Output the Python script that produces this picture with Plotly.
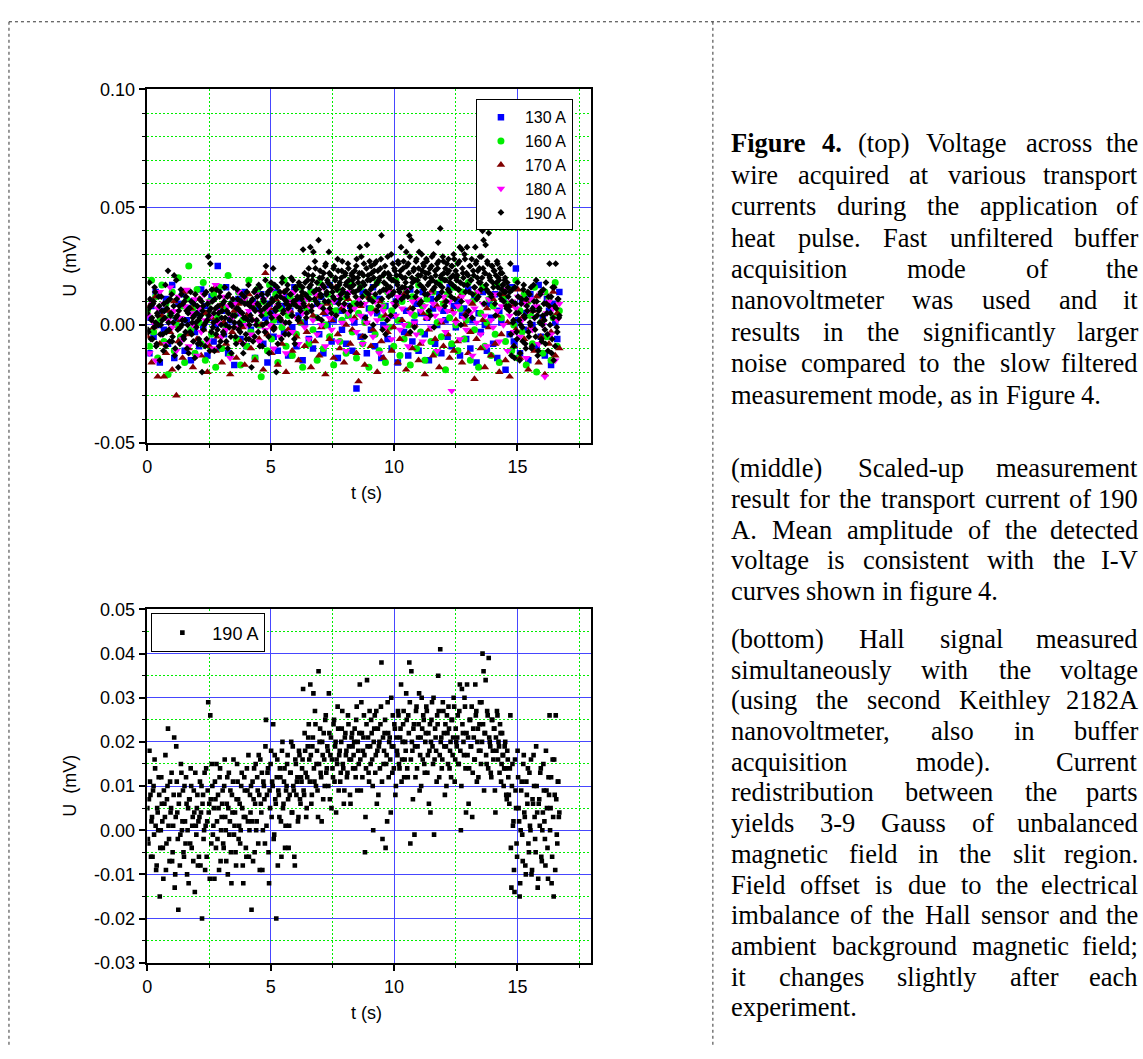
import numpy as np
import plotly.graph_objects as go

W, H = 1143, 1059
T_END = 16.7          # s, last sample time

# ---------------- data (values in microvolts) ----------------
u130 = [3, -12, 8, -5, 14, 0, -16, 6, -2, 11, -8, 4, 17, -14, 1, 9, -6, 13, -11, 2, 7, -15, 10, -3, 5, -9, 15, -1, 8, -13, 3, 12, -7, 0, 25, -10, 6, -4, 16, -12, 2, 9, -17, 5, 11, -6, 1, 14, -9, 4,
        -2, 10, -14, 7, 0, 13, -8, 3, -16, 9, 5, -5, 15, -11, 2, 8, -3, 12, -13, 6, -1, 16, -9, 4, 11, -15, 1, 7, -6, 14, -10, 3, 9, -4, 12, -12, 5, 0, 17, -7, 2, 10, -14, 6, -2, 13, -8, 4, 8, -11,
        1, -27, 9, -5, 14, 3, -12, 7, -2, 16, -9, 5, 11, -14, 0, 8, -6, 13, -10, 4, 10, -16, 2, 12, -3, 6, -13, 15, -7, 1, 9, -11, 5, 14, -4, 3, -15, 11, 7, -8, 0, 13, -12, 6, 2, -5, 16, -9, 8, -1,
        10, -13, 4, 7, -6, 15, -10, 2, 12, -16, 5, -3, 14, 0, -11, 9, 3, -8, 13, -14, 6, 1, 11, -19, 8, -4, 16, -7, 24, 2, -12, 10, -2, 5, -15, 13, 0, 7, -9, 17, -5, 3, -13, 11, 6, -17, 9, 1, -6, 14]
u160 = [6, -9, 19, -3, 12, -14, 2, 17, -7, 9, -21, 4, 14, -11, 0, 20, -5, 8, -16, 11, 25, -2, 7, -12, 15, 1, -8, 18, -15, 5, 10, -4, 13, -18, 3, 16, -10, 7, -1, 21, -13, 9, 4, -6, 14, -17, 2, 11, -9, 19,
        -3, 8, -14, 15, 0, -22, 10, 5, -11, 17, -6, 2, 13, -16, 7, -1, 19, -9, 4, 12, -13, 9, -4, 16, 1, -18, 11, 6, -8, 14, -2, 3, -15, 18, 8, -10, 0, 13, -5, 10, -17, 6, 15, -7, 2, 12, -12, 4, 17, -3,
        9, -14, 5, 16, -8, 1, 13, -18, 7, 11, -4, 18, -11, 3, 8, -16, 14, -1, 6, -9, 19, 2, -13, 10, -6, 15, 0, -17, 12, 4, -10, 17, -3, 8, -15, 11, 5, -7, 14, -12, 1, 18, -5, 9, -19, 13, 3, -8, 16, 0,
        -11, 7, 14, -6, 2, 18, -15, 10, -2, 13, -18, 5, 16, -9, 1, 11, -13, 8, -4, 17, -16, 3, 12, -7, 9, 15, -11, 0, 19, -14, 6, -3, 13, -17, 10, 4, -8, 16, -20, 7, 1, -12, 14, -5, 11, -15, 3, 18, -9, 6]
u170 = [-5, 8, -16, -1, 12, -22, -8, 4, -22, -12, 6, -3, -19, 10, -30, -7, 2, -14, 14, -4, -10, 7, -18, 0, -6, 11, -13, -2, 5, -20, -9, 3, 15, -11, -5, 8, -16, 1, -8, 12, -21, -3, 6, -14, 9, -7, -1, -17, 4, 13,
        -10, 2, -15, 9, -6, 0, -19, 22, -4, 7, -12, -1, 11, -17, 3, -8, 14, -20, -2, 6, -11, 10, -5, -15, 1, 13, -9, -3, 8, -18, 4, -7, 12, -13, -1, 5, -21, 9, -6, 2, -14, 16, -4, -10, 7, -16, 0, 11, -8, -2,
        3, -12, -24, 8, -5, -17, 1, 12, -9, -2, 6, -20, 10, -7, -14, 4, -3, 15, -11, -1, 9, -16, -6, 2, 13, -19, -4, 7, -10, 0, 11, -15, -8, 5, -21, 3, -2, 14, -13, -6, 8, -18, 1, -9, 10, -4, -14, 6, -11, 2,
        -7, 12, -16, 0, 5, -12, -3, 9, -23, -6, 14, -10, 2, -18, 7, -1, -13, 11, -8, 4, -20, -4, 13, -15, 1, -22, 8, -9, -2, 15, -14, 3, -6, 10, -19, -1, 6, -11, 12, -16, -5, 2, -21, 9, -8, -3, 14, -13, 5, -10]
u180 = [4, -12, 10, 1, -15, 7, 14, -4, 9, -8, 2, 16, -1, 6, -11, 12, 3, -6, 8, 15, -9, 5, 0, 11, -13, 7, -3, 13, 2, -7, 10, 4, -10, 17, 1, 6, -5, 12, -2, 8, -14, 3, 9, -1, 14, 5, -8, 11, 0, 6,
        -4, 9, 2, 13, -7, 5, 11, -2, 7, 0, 15, -10, 4, 8, -5, 12, 1, -12, 6, 10, -3, 14, 3, -8, 9, 5, -1, 11, -6, 7, 2, 13, -4, 8, 0, 16, -9, 6, 3, -2, 10, 4, -7, 12, 1, 8, -11, 5, 14, 2,
        7, -3, 11, 4, -8, 9, 1, 13, 5, -5, 10, 2, -12, 8, 6, -1, 14, 3, -6, 9, 4, 12, -2, 7, 0, 15, -9, 5, 10, 1, -4, 11, 6, -7, 8, 3, 13, -1, 9, 4, -11, 7, 2, 12, -3, 6, 10, -28, 5, 1,
        8, -6, 12, 3, -2, 10, 5, -13, 7, 1, 14, -4, 9, 4, -9, 11, 2, -1, 13, 6, -7, 8, 0, 15, -11, 4, 10, -3, 7, 12, -5, 2, 9, -14, 6, 11, -2, 3, 8, -8, 13, 0, -22, 5, 10, -4, 7, -15, 2, 9]
# 190 A: even-index samples (a) and odd-index samples (b)
u190_a = [5, -3, 18, 8, 2, -6, 10, 16, 1, -8, 4, 12, -15, 0, 6, -4, 9, 3, -9, 7, 23, -2, 11, 5, -7, 1, 21, -10, 19, 4, -18, 8, -1, 13, 2, -5, 10, -3, 6, 0, -12, 7, 14, -4, 3, 9, -14, 1, 5, -8,
          -6, 11, 4, -20, 8, 0, -9, 14, 2, 29, 6, 26, -3, 10, 1, -11, 7, 15, -2, 5, 12, -7, 3, 9, -4, 16, 0, 6, -10, 13, 2, -5, 8, 11, -1, 4, -8, 15, 7, 1, -3, 10, 5, -12, 12, 3, -6, 9, 17, 0,
          4, -18, 11, 7, -5, 15, 2, 9, 17, -9, 6, 13, 0, 10, -3, 25, 8, 14, -12, 5, 18, 11, 24, -1, 7, -20, 16, 9, 3, 12, -6, 20, 6, 14, 1, 10, 17, -4, 8, 13, 4, 19, 9, -8, 15, 11, 2, 18, 7, 12,
          14, 32, 8, 18, 3, 12, 21, 16, 33, 6, 19, 31, 11, 24, 15, 9, 36, 20, 13, 2, 17, 22, 10, 26, 14, 18, 31, 7, 21, 16, 12, 25, 19, 4, 15, 23, 17, 11, 20, 27, 14, 9, 22, 18, 13, 24, 16, 6, 21, 19,
          17, 23, 12, 28, 20, 15, 33, 9, 22, 18, 26, -5, 14, 34, 21, 11, 19, 25, 16, 0, 23, 13, 27, 18, 8, 20, 24, 38, -2, 15, 22, -4, 17, 29, 12, 21, 4, 19, 26, 14, 23, 10, 18, 27, 15, 21, 33, 16, 24, 12,
          20, 31, 14, 26, 38, -3, 36, 18, 23, -1, 12, 28, 19, 24, 9, 21, 30, 16, 25, 13, 22, 27, 17, 6, 24, 20, 29, 15, -1, 23, 18, 26, 35, 12, 41, 21, 16, 27, 19, 24, 10, 22, 28, 14, 20, 25, 17, 30, 11, 23,
          19, 26, 15, 33, 0, 32, 22, 17, 28, 4, 33, 21, 14, 25, 19, 3, 23, 16, 33, 27, 20, 12, 24, 18, 29, 40, 36, 22, 34, 15, 26, 39, 20, 13, 25, 18, 23, 9, 21, 27, 16, 19, 24, 11, 22, 17, 14, 20, 8, 18,
          12, 6, 26, -13, 15, 2, -14, 9, -3, 18, 5, -15, 0, 11, -7, 17, 3, -10, 8, 14, -5, 1, 16, -9, 6, 10, -2, 19, 4, -11, 7, 13, -6, 0, 15, 2, -8, 9, -4, 12, 26, 5, -12, 16, -15, 8, 26, -1, 11, 3]
u190_b = [-2, 7, 11, -6, 3, 9, -1, 14, -9, 5, 0, 8, -4, 12, 2, -11, 6, 17, -3, 10, 1, -7, 4, 13, -5, 8, -13, 3, 11, -2, 6, -8, 15, 0, 9, -6, 2, 12, -10, 5, 7, -3, 10, 1, -7, 4, 13, -1, 8, 2,
          3, -8, 10, 6, -2, 13, 1, -6, 9, 4, -11, 7, 15, -1, 5, 11, -4, 2, 8, -9, 14, 0, 6, -3, 10, 3, -7, 12, 5, -1, 9, -12, 4, 16, 1, -5, 7, 11, -2, 6, 0, 13, -8, 3, 9, -4, 14, 2, -6, 8,
          10, 2, -7, 14, 6, 0, 12, -3, 8, 16, 4, -9, 11, 7, 19, 1, 13, -5, 9, 15, 3, 10, -2, 17, 6, 12, -8, 8, 14, 2, 18, 5, 11, -4, 9, 15, 7, 1, 13, 20, 4, 10, -6, 16, 8, 12, 3, 17, 6, 11,
          16, 9, 22, 13, 5, 19, 24, 11, 17, 8, 21, 14, 27, 10, 18, 3, 15, 23, 12, 20, 7, 16, 25, 13, 19, 10, 22, 17, 5, 14, 24, 11, 20, 16, 28, 9, 18, 13, 23, 15, 6, 21, 17, 12, 26, 19, 8, 16, 22, 14,
          20, 14, 25, 9, 18, 22, 16, 29, 12, 21, 17, 3, 24, 19, 13, 27, 15, 22, 10, 20, 26, 17, 6, 23, 19, 14, 28, 11, 21, 18, 25, 15, 2, 22, 20, 16, 30, 13, 19, 24, 8, 21, 17, 26, 14, 23, 11, 20, 27, 16,
          18, 25, 12, 22, 29, 16, 20, 7, 24, 19, 27, 14, 21, 31, 17, 10, 23, 26, 15, 20, 28, 13, 22, 18, 4, 25, 19, 30, 16, 21, 11, 24, 27, 17, 20, 14, 29, 22, 8, 19, 26, 15, 23, 18, 12, 25, 21, 28, 16, 20,
          21, 15, 27, 18, 10, 24, 20, 30, 14, 22, 17, 6, 25, 19, 28, 13, 21, 16, 26, 11, 23, 18, 29, 15, 20, 24, 9, 22, 17, 27, 14, 21, 19, 12, 25, 16, 23, 4, 18, 26, 20, 13, 22, 15, 17, 10, 19, 14, 7, 16,
          8, 14, -4, 10, 1, -9, 16, 5, -6, 12, 2, -12, 9, -1, 15, 4, -8, 11, 6, -3, 13, 0, -10, 7, 17, 3, -5, 10, -13, 6, 1, 14, -7, 4, 9, -2, 18, 5, -11, 8, 0, 12, -6, 3, 16, -9, 7, -3, 11, 4]
u190 = [v for pair in zip(u190_a, u190_b) for v in pair]

series_names = ["130 A", "160 A", "170 A", "180 A", "190 A"]
series_vals = [u130, u160, u170, u180, u190]

x_tickvals = [0, 5, 10, 15]
x_ticktext = ["0", "5", "10", "15"]
top_y_tickvals = [-0.05, 0.0, 0.05, 0.10]
top_y_ticktext = ["-0.05", "0.00", "0.05", "0.10"]
bot_y_tickvals = [-0.03, -0.02, -0.01, 0.0, 0.01, 0.02, 0.03, 0.04, 0.05]
bot_y_ticktext = ["-0.03", "-0.02", "-0.01", "0.00", "0.01", "0.02", "0.03", "0.04", "0.05"]

# ---------------- styles ----------------
colors = ["#0000ff", "#00ee00", "#800000", "#ff00ff", "#000000"]
symbols = ["square", "circle", "triangle-up", "triangle-down", "diamond"]
sizes = [6.5, 7, 7.5, 7.5, 5.2]
BLUE_GRID = "#4646ff"
GREEN_GRID = "#00ee00"
SANS = "Liberation Sans, Arial, sans-serif"
SERIF = "Liberation Serif, Times New Roman, serif"


def px(x):
    return x / W


def py(y):
    return 1 - y / H


def to_mv(vals):
    return np.array(vals, dtype=float) / 1000.0


def times(vals):
    return np.linspace(0, T_END, len(vals))


fig = go.Figure()
for name, vals, c, s, sz in zip(series_names, series_vals, colors, symbols, sizes):
    fig.add_trace(go.Scatter(x=times(vals), y=to_mv(vals), mode="markers", name=name,
                             marker=dict(color=c, symbol=s, size=sz, line=dict(width=0)),
                             xaxis="x", yaxis="y", legend="legend"))
fig.add_trace(go.Scatter(x=times(u190), y=to_mv(u190), mode="markers", name="190 A",
                         marker=dict(color="black", symbol="square", size=4.6, line=dict(width=0)),
                         xaxis="x2", yaxis="y2", legend="legend2"))

X_DOM = [px(143), px(589)]
TOP_DOM = [py(441), py(81)]
BOT_DOM = [py(971), py(611)]
tickfont = dict(family=SANS, size=18, color="black")


def main_axis(dom, rng, tv, tt, minor_dtick, anchor):
    return dict(domain=dom, range=rng, anchor=anchor, tickmode="array", tickvals=tv, ticktext=tt,
                ticks="outside", ticklen=7, tickwidth=1.5, tickcolor="black", tickfont=tickfont,
                showline=True, linecolor="black", linewidth=1.5, mirror=True,
                showgrid=True, gridcolor=BLUE_GRID, gridwidth=1, zeroline=False,
                minor=dict(tickmode="linear", tick0=0, dtick=minor_dtick, ticks="outside", ticklen=4,
                           tickwidth=1, tickcolor="black", showgrid=True, gridcolor=GREEN_GRID,
                           gridwidth=1, griddash="2px,2px"))


def mirror_axis(over, anchor, side, rng, tv, minor_dtick):
    return dict(overlaying=over, anchor=anchor, side=side, range=rng, tickmode="array", tickvals=tv,
                ticks="inside", ticklen=7, tickwidth=1.5, tickcolor="black", showticklabels=False,
                showgrid=False, zeroline=False, showline=False,
                minor=dict(tickmode="linear", tick0=0, dtick=minor_dtick, ticks="inside", ticklen=4,
                           tickwidth=1, tickcolor="black", showgrid=False))


fig.update_layout(
    width=W, height=H, margin=dict(l=0, r=0, t=0, b=0),
    paper_bgcolor="white", plot_bgcolor="white",
    font=dict(family=SANS, size=18, color="black"),
    xaxis=main_axis(X_DOM, [0, 18], x_tickvals, x_ticktext, 2.5, "y"),
    yaxis=main_axis(TOP_DOM, [-0.05, 0.10], top_y_tickvals, top_y_ticktext, 0.01, "x"),
    xaxis2=main_axis(X_DOM, [0, 18], x_tickvals, x_ticktext, 2.5, "y2"),
    yaxis2=main_axis(BOT_DOM, [-0.03, 0.05], bot_y_tickvals, bot_y_ticktext, 0.005, "x2"),
    xaxis3=mirror_axis("x", "y", "top", [0, 18], x_tickvals, 2.5),
    yaxis3=mirror_axis("y", "x", "right", [-0.05, 0.10], top_y_tickvals, 0.01),
    xaxis4=mirror_axis("x2", "y2", "top", [0, 18], x_tickvals, 2.5),
    yaxis4=mirror_axis("y2", "x2", "right", [-0.03, 0.05], bot_y_tickvals, 0.005),
    legend=dict(x=px(473), y=py(91), xanchor="left", yanchor="top", bgcolor="white",
                bordercolor="black", borderwidth=1, font=dict(family=SANS, size=16),
                itemwidth=38, tracegroupgap=0),
    legend2=dict(x=px(147), y=py(615), xanchor="left", yanchor="top", bgcolor="white",
                 bordercolor="black", borderwidth=1, font=dict(family=SANS, size=18),
                 itemwidth=50),
    showlegend=True,
)

ann = []
# axis titles
for yc in (261, 791):
    ann.append(dict(x=px(65), y=py(yc), xref="paper", yref="paper", text="U&nbsp; (mV)", textangle=-90,
                    showarrow=False, font=dict(family=SANS, size=18), xanchor="center", yanchor="middle"))
for yc in (492, 1022):
    ann.append(dict(x=px(363), y=py(yc), xref="paper", yref="paper", text="t (s)",
                    showarrow=False, font=dict(family=SANS, size=18), xanchor="center", yanchor="middle"))

# ---------------- caption text (justified, word by word) ----------------
TIMES = {' ': 250, '(': 333, ')': 333, ',': 250, '-': 333, '.': 250, ';': 278, ':': 278}
TIMES.update({d: 500 for d in "0123456789"})
TIMES.update(dict(zip("ABCDEFGHIJKLMNOPQRSTUVWXYZ",
                      [722, 667, 667, 722, 611, 556, 722, 722, 333, 389, 722, 611, 889, 722, 722, 556, 722, 667, 556, 611, 722, 722, 944, 722, 722, 611])))
TIMES.update(dict(zip("abcdefghijklmnopqrstuvwxyz",
                      [444, 500, 444, 500, 444, 333, 500, 500, 278, 278, 500, 278, 778, 500, 500, 500, 500, 333, 389, 278, 500, 500, 722, 500, 500, 444])))
TIMES_B = {'F': 611, 'i': 278, 'g': 500, 'u': 556, 'r': 444, 'e': 444, '4': 500, '.': 250}
FS = 26.5
COL_L, COL_R = 728, 1139


def wwidth(word, bold):
    tab = TIMES_B if bold else TIMES
    return sum(tab.get(ch, 500) for ch in word) * FS / 1000.0


paragraphs = [
    (136, 32.0, [("*Figure *4. (top) Voltage across the", True),
                 ("wire acquired at various transport", True),
                 ("currents during the application of", True),
                 ("heat pulse. Fast unfiltered buffer", True),
                 ("acquisition mode of the", True),
                 ("nanovoltmeter was used and it", True),
                 ("results in the significantly larger", True),
                 ("noise compared to the slow filtered", True),
                 ("measurement mode, as in Figure 4.", False)]),
    (467, 31.3, [("(middle) Scaled-up measurement", True),
                 ("result for the transport current of 190", True),
                 ("A. Mean amplitude of the detected", True),
                 ("voltage is consistent with the I-V", True),
                 ("curves shown in figure 4.", False)]),
    (641, 31.3, [("(bottom) Hall signal measured", True),
                 ("simultaneously with the voltage", True),
                 ("(using the second Keithley 2182A", True),
                 ("nanovoltmeter, also in buffer", True),
                 ("acquisition mode). Current", True),
                 ("redistribution between the parts", True),
                 ("yields 3-9 Gauss of unbalanced", True),
                 ("magnetic field in the slit region.", True),
                 ("Field offset is due to the electrical", True),
                 ("imbalance of the Hall sensor and the", True),
                 ("ambient background magnetic field;", True),
                 ("it changes slightly after each", True),
                 ("experiment.", False)]),
]

for y0, step, lines in paragraphs:
    for i, (line, just) in enumerate(lines):
        yl = y0 + i * step
        words = []
        for w in line.split(" "):
            bold = w.startswith("*")
            words.append((w.lstrip("*"), bold))
        widths = [wwidth(w, b) for w, b in words]
        if just and len(words) > 1:
            gap = (COL_R - COL_L - sum(widths)) / (len(words) - 1)
        else:
            gap = TIMES[' '] * FS / 1000.0
        xcur = COL_L
        for k, ((w, b), wd) in enumerate(zip(words, widths)):
            txt = "<b>%s</b>" % w if b else w
            last_just = just and k == len(words) - 1 and len(words) > 1
            ann.append(dict(x=px(COL_R if last_just else xcur), y=py(yl), xref="paper", yref="paper",
                            text=txt, showarrow=False, xanchor="right" if last_just else "left",
                            yanchor="middle", borderpad=0,
                            font=dict(family=SERIF, size=FS, color="black")))
            xcur += wd + gap

fig.update_layout(annotations=ann)

# ---------------- dotted page borders ----------------
border = dict(color="#333333", width=1, dash="dot")
fig.update_layout(shapes=[
    dict(type="line", xref="paper", yref="paper", x0=px(4), x1=1, y0=py(12), y1=py(12), line=border),
    dict(type="line", xref="paper", yref="paper", x0=px(4), x1=px(4), y0=py(12), y1=py(1055), line=border),
    dict(type="line", xref="paper", yref="paper", x0=px(711), x1=px(711), y0=py(12), y1=py(1055), line=border),
])

fig.write_html("out.html", config={"displayModeBar": False},
               post_script="document.body.style.margin='0';document.body.style.overflow='hidden';")
